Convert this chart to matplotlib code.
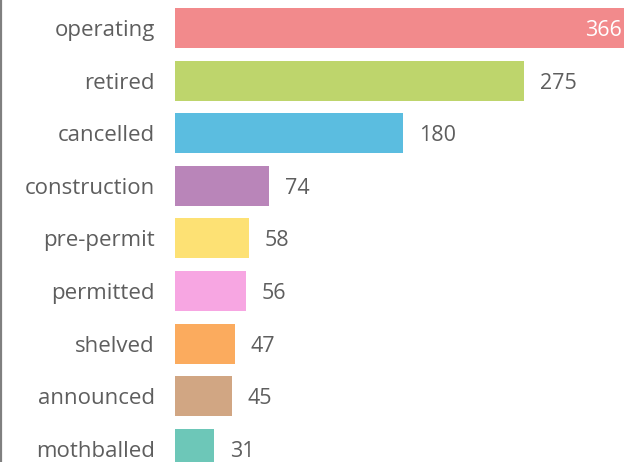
import matplotlib
matplotlib.use("Agg")
import matplotlib.pyplot as plt
from matplotlib.lines import Line2D

categories = ["operating", "retired", "cancelled", "construction", "pre-permit",
              "permitted", "shelved", "announced", "mothballed"]
counts = [366, 275, 180, 74, 58, 56, 47, 45, 31]
colors = ["#F28A8C", "#BED56C", "#5BBDE0", "#B985B9", "#FDE174",
          "#F7A6E2", "#FBAB5E", "#D1A683", "#6DC7B8"]

W, H, DPI = 624, 462, 100
fig = plt.figure(figsize=(W / DPI, H / DPI), dpi=DPI)
fig.patch.set_facecolor("white")

x0 = 175 / W
ax = fig.add_axes([x0, 0, 1 - x0, 1])
ax.set_facecolor("white")

ypos = list(range(len(categories)))
ax.barh(ypos, counts, height=0.76, color=colors)

ax.set_xlim(0, 354)
ax.set_ylim(8.25, -0.532)
for s in ax.spines.values():
    s.set_visible(False)
ax.set_xticks([])
ax.set_yticks(ypos)
ax.set_yticklabels(categories, fontsize=16, color="#5e5e5e", family="Open Sans")
ax.tick_params(axis="y", length=0, pad=14.5)

xmax = ax.get_xlim()[1]
for y, v in zip(ypos, counts):
    if v > xmax * 0.95:
        ax.text(xmax - 1.5, y, str(v), ha="right", va="center_baseline",
                fontsize=15.5, color="white", family="Open Sans")
    else:
        ax.text(v + 12.5, y, str(v), ha="left", va="center_baseline",
                fontsize=15.5, color="#5e5e5e", family="Open Sans")

fig.add_artist(Line2D([1 / W, 1 / W], [0, 1], transform=fig.transFigure,
                      color="#808080", linewidth=1.6))

fig.savefig("out.png", dpi=DPI, facecolor="white")
